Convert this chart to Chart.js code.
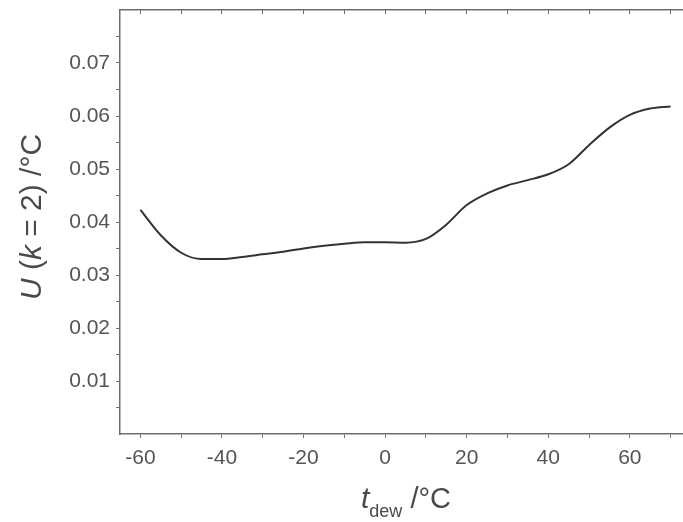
<!DOCTYPE html>
<html>
<head>
<meta charset="utf-8">
<script src="https://cdn.jsdelivr.net/npm/chart.js@4"></script>
<style>
  html, body { margin: 0; padding: 0; background: #fff; overflow: hidden; }
  #wrap { width: 700px; height: 522px; }
</style>
</head>
<body>
<div id="wrap"><canvas id="uChart"></canvas></div>
<script>
// dew-point temperature (°C) and expanded uncertainty U (k = 2) in °C
var dewPoints = [-60, -55, -50, -45, -40, -35, -30, -25, -20, -15, -10, -5, 0, 5, 10, 15, 20, 25, 30, 35, 40, 45, 50, 55, 60, 65, 70];
var uncertainty = [0.0423, 0.0375, 0.0342, 0.0330, 0.0330, 0.0334, 0.0339, 0.0344, 0.0350, 0.0355, 0.0359, 0.0362, 0.0362, 0.0361, 0.0368, 0.0395, 0.0432, 0.0454, 0.0469, 0.0479, 0.0490, 0.0509, 0.0545, 0.0578, 0.0602, 0.0614, 0.0618];
var xTickValues = [-60, -50, -40, -30, -20, -10, 0, 10, 20, 30, 40, 50, 60, 70];
var xLabels = [-60, -40, -20, 0, 20, 40, 60];
var yTickValues = [0.005, 0.01, 0.015, 0.02, 0.025, 0.03, 0.035, 0.04, 0.045, 0.05, 0.055, 0.06, 0.065, 0.07, 0.075];
var yLabels = [0.01, 0.02, 0.03, 0.04, 0.05, 0.06, 0.07];

var points = dewPoints.map(function(t, i) { return { x: t, y: uncertainty[i] }; });
var tickFont = { family: 'Liberation Sans, Arial, sans-serif', size: 21 };
var axisGrey = '#6e6e6e';

function setTicks(values) {
    return function(s) { s.ticks = values.map(function(v) { return { value: v }; }); };
}

// axis titles with italic symbols and subscript
var axisTitles = {
    id: 'axisTitles',
    afterDraw: function(chart) {
        var ctx = chart.ctx;
        var fam = 'Liberation Sans, Arial, sans-serif';
        function run(parts, x, y) {
            parts.forEach(function(p) {
                ctx.font = p.f;
                ctx.fillText(p.t, x, y + (p.dy || 0));
                x += ctx.measureText(p.t).width;
            });
        }
        function width(parts) {
            var w = 0;
            parts.forEach(function(p) { ctx.font = p.f; w += ctx.measureText(p.t).width; });
            return w;
        }
        ctx.save();
        ctx.fillStyle = '#4a4a4a';
        ctx.textBaseline = 'alphabetic';
        var yParts = [
            { t: 'U', f: 'italic 30px ' + fam },
            { t: ' (', f: '30px ' + fam },
            { t: 'k', f: 'italic 30px ' + fam },
            { t: ' = 2) /°C', f: '30px ' + fam }
        ];
        ctx.translate(41, 217);
        ctx.rotate(-Math.PI / 2);
        run(yParts, -width(yParts) / 2, 0);
        ctx.restore();

        ctx.save();
        ctx.fillStyle = '#4a4a4a';
        var xParts = [
            { t: 't', f: 'italic 30px ' + fam },
            { t: 'dew', f: '18px ' + fam, dy: 9 },
            { t: ' /°C', f: '29px ' + fam }
        ];
        run(xParts, 406 - width(xParts) / 2, 508);
        ctx.restore();
    }
};

new Chart(document.getElementById('uChart'), {
    type: 'line',
    data: {
        datasets: [{
            data: points,
            borderColor: '#333333',
            borderWidth: 2,
            pointRadius: 0,
            cubicInterpolationMode: 'monotone',
            fill: false
        }]
    },
    options: {
        responsive: true,
        maintainAspectRatio: false,
        animation: false,
        layout: { padding: { top: 10, right: 9, left: 0, bottom: 0 } },
        plugins: { legend: { display: false }, tooltip: { enabled: false } },
        scales: {
            x: {
                type: 'linear',
                position: 'bottom',
                min: -65,
                max: 75,
                afterBuildTicks: setTicks(xTickValues),
                afterFit: function(s) { s.height = 88; s.paddingLeft = 0; s.paddingRight = 0; },
                border: { color: axisGrey, width: 1.5 },
                grid: { drawOnChartArea: false, tickLength: 4, color: axisGrey },
                ticks: {
                    autoSkip: false,
                    maxRotation: 0,
                    padding: 8,
                    color: '#555',
                    font: tickFont,
                    callback: function(v) { return xLabels.indexOf(v) >= 0 ? String(v) : ''; }
                }
            },
            xTop: {
                type: 'linear',
                position: 'top',
                min: -65,
                max: 75,
                afterBuildTicks: setTicks(xTickValues),
                afterFit: function(s) { s.height = 0; s.paddingLeft = 0; s.paddingRight = 0; },
                border: { color: axisGrey, width: 1.5 },
                grid: { drawOnChartArea: false, tickLength: -4, color: axisGrey },
                ticks: { display: false }
            },
            y: {
                min: 0,
                max: 0.08,
                afterBuildTicks: setTicks(yTickValues),
                afterFit: function(s) { s.width = 120; s.paddingTop = 0; s.paddingBottom = 0; },
                border: { color: axisGrey, width: 1.5 },
                grid: { drawOnChartArea: false, tickLength: 4, color: axisGrey },
                ticks: {
                    autoSkip: false,
                    padding: 6,
                    color: '#555',
                    font: tickFont,
                    callback: function(v) { return yLabels.indexOf(v) >= 0 ? v.toFixed(2) : ''; }
                }
            }
        }
    },
    plugins: [axisTitles]
});
</script>
</body>
</html>
